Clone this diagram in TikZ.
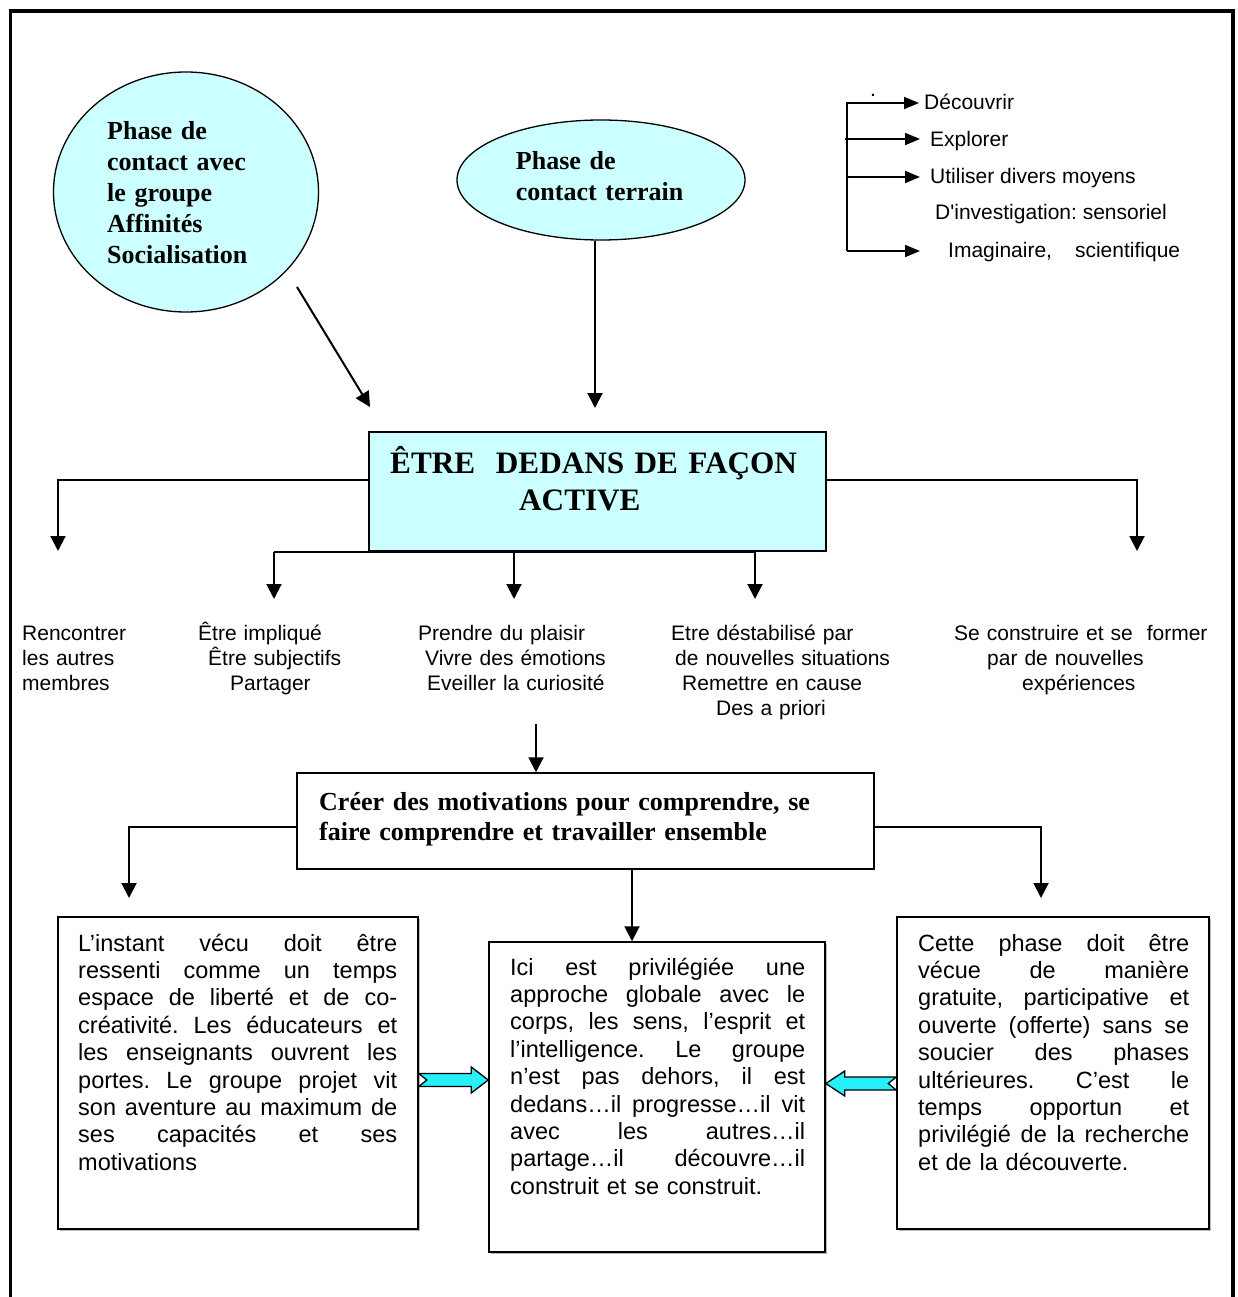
\documentclass[tikz,border=0pt]{standalone}
\usepackage{fontspec}
\setmainfont{Liberation Serif}
\newfontfamily\arial{Liberation Sans}
\usetikzlibrary{arrows.meta,shapes.geometric,calc}

\definecolor{palecyan}{RGB}{204,255,255}
\definecolor{brightcyan}{RGB}{40,240,248}

\frenchspacing
% one justified line: the word spaces stretch evenly to the width \jw
\newcommand\jl[1]{\hbox to\jw{\spaceskip=0.278em plus 1fil\relax #1}}

\begin{document}
\begin{tikzpicture}[x=1pt,y=-1pt,
  conn/.style={line width=2pt},
  arr/.style={line width=2pt,-{Triangle[length=15pt,width=15pt]}},
  listarr/.style={line width=1.8pt,-{Triangle[length=15pt,width=12pt]}},
  bubble/.style={ellipse,draw,line width=1.3pt,fill=palecyan,inner sep=0pt},
  textbox/.style={draw,line width=1.5pt,fill=white,inner sep=0pt,
    preaction={fill=gray!55,transform canvas={shift={(1.5pt,-1.5pt)}}}},
  titletext/.style={font=\bfseries\fontsize{26}{31}\selectfont,anchor=base west,
    inner sep=0pt,text width=560pt,align=left},
  lbl/.style={font=\arial\fontsize{21}{25}\selectfont,anchor=base west,
    inner sep=0pt,text width=260pt,align=left},
  item/.style={font=\arial\fontsize{21}{25}\selectfont,anchor=base west,inner sep=0pt},
  bodytext/.style={font=\arial\fontsize{23.5}{27.4}\selectfont,anchor=base west,inner sep=0pt},
  blockarr/.style={draw,line width=1.3pt,fill=brightcyan,line join=miter}
]
\useasboundingbox (0,0) rectangle (1238,1297);
\clip (0,0) rectangle (1238,1297);

% outer frame, open at the bottom
\draw[line width=3.3pt] (10.5,1310) -- (10.5,11) -- (1233,11) -- (1233,1310);

% the two contact phases
\node[bubble,minimum width=265pt,minimum height=240pt] (g1) at (186,192) {};
\node[titletext] (g1t) at (107,139.3) {Phase de\\contact avec\\le groupe\\Affinités\\Socialisation};
\node[bubble,minimum width=288pt,minimum height=120pt] (g2) at (601,180) {};
\node[titletext,font=\bfseries\fontsize{26}{31.7}\selectfont] (g2t) at (515.7,169.3) {Phase de\\contact terrain};

% central box
\node[draw,line width=1.5pt,fill=palecyan,minimum width=457pt,minimum height=119pt,inner sep=0pt] (main) at (597.5,491.5) {};
\node[font=\bfseries\fontsize{31.2}{37}\selectfont,anchor=base west,inner sep=0pt,text width=440pt,align=left]
  (mainT) at (390,473) {ÊTRE~~DEDANS DE FAÇON\\\hspace*{129pt}ACTIVE};

% arrows into the central box
\coordinate (p1s) at (297,287);
\coordinate (p1e) at (370,407);
\draw[arr] (p1s) -- (p1e);
\coordinate (p2e) at (595,408);
\draw[arr] (g2.south -| p2e) -- (p2e);

% list at the top right
\coordinate (t1) at (847,103);
\coordinate (t2) at (845,139);
\coordinate (t3) at (847,177);
\coordinate (t5) at (847,251);
\coordinate (e1) at (919,103);
\coordinate (e2) at (920,139);
\coordinate (e3) at (920,177);
\coordinate (e5) at (920,251);
\draw[listarr] (t5) -- (t1) -- (e1);
\draw[listarr] (t2) -- (e2);
\draw[listarr] (t3) -- (e3);
\draw[listarr] (t5) -- (e5);
\node[item,anchor=base] (dot) at (873,97) {.};
\node[item] (d1) at (924,110) {Découvrir};
\node[item] (d2) at (930,147) {Explorer};
\node[item] (d3) at (930,184) {Utiliser divers moyens};
\node[item] (d4) at (935,220) {D'investigation: sensoriel};
\node[item] (d5) at (948,257) {Imaginaire,\hspace{23pt}scientifique};

% branches out of the central box
\coordinate (a1) at (58,551);
\coordinate (a5) at (1137,551);
\coordinate (a2) at (274,599);
\coordinate (a3) at (514,599);
\coordinate (a4) at (755,599);
\draw[arr] ([yshift=11.5pt]main.west) -| (a1);
\draw[arr] ([yshift=11.5pt]main.east) -| (a5);
\draw[conn] (a2 |- main.south) -- (a4 |- main.south);
\draw[arr] (a2 |- main.south) -- (a2);
\draw[arr] (a3 |- main.south) -- (a3);
\draw[arr] (a4 |- main.south) -- (a4);

% the five outcomes
\node[lbl] (c1) at (22,640) {Rencontrer\\les autres\\membres};
\node[lbl] (c2) at (198,640) {Être impliqué\\\hspace*{10pt}Être subjectifs\\\hspace*{32pt}Partager};
\node[lbl] (c3) at (418,640) {Prendre du plaisir\\\hspace*{7pt}Vivre des émotions\\\hspace*{9pt}Eveiller la curiosité};
\node[lbl] (c4) at (671,640) {Etre déstabilisé par\\\hspace*{4pt}de nouvelles situations\\\hspace*{11pt}Remettre en cause\\\hspace*{45pt}Des a priori};
\node[lbl] (c5) at (954,640) {Se construire et se~~former\\\hspace*{33pt}par de nouvelles\\\hspace*{68pt}expériences};

% motivation box
\node[draw,line width=1.5pt,fill=white,minimum width=577pt,minimum height=96pt,inner sep=0pt] (cree) at (585.5,821) {};
\node[titletext,font=\bfseries\fontsize{26}{30}\selectfont] (creeT) at (319,810)
  {Créer des motivations pour comprendre, se\\faire comprendre et travailler ensemble};
\coordinate (c3s) at (536,724);
\draw[arr] (c3s) -- (cree.north -| c3s);

% the three description boxes
\node[textbox,minimum width=360pt,minimum height=312pt] (lbox) at (238,1073) {};
\node[textbox,minimum width=336pt,minimum height=310pt] (mbox) at (657,1097) {};
\node[textbox,minimum width=312pt,minimum height=312pt] (rbox) at (1053,1073) {};

\coordinate (lt) at (129,898);
\coordinate (rt) at (1041,898);
\coordinate (mt) at (632,942);
\draw[arr] ([yshift=-6pt]cree.west) -| (lt);
\draw[arr] ([yshift=-6pt]cree.east) -| (rt);
\draw[arr] (mt |- cree.south) -- (mbox.north -| mt);

\node[bodytext,text width=319pt] (lboxT) at (78,951) {%
\def\jw{319pt}%
\jl{L’instant vécu doit être}
\jl{ressenti comme un temps}
\jl{espace de liberté et de co-}
\jl{créativité. Les éducateurs et}
\jl{les enseignants ouvrent les}
\jl{portes. Le groupe projet vit}
\jl{son aventure au maximum de}
\jl{ses capacités et ses}
\hbox{motivations}};

\node[bodytext,text width=295pt] (mboxT) at (510,975) {%
\def\jw{295pt}%
\jl{Ici est privilégiée une}
\jl{approche globale avec le}
\jl{corps, les sens, l’esprit et}
\jl{l’intelligence. Le groupe}
\jl{n’est pas dehors, il est}
\jl{dedans…il progresse…il vit}
\jl{avec les autres…il}
\jl{partage…il découvre…il}
\hbox{construit et se construit.}};

\node[bodytext,text width=271pt] (rboxT) at (918,951) {%
\def\jw{271pt}%
\jl{Cette phase doit être}
\jl{vécue de manière}
\jl{gratuite, participative et}
\jl{ouverte (offerte) sans se}
\jl{soucier des phases}
\jl{ultérieures. C’est le}
\jl{temps opportun et}
\jl{privilégié de la recherche}
\hbox{et de la découverte.}};

% cyan block arrows between the boxes
\coordinate (la) at ($(lbox.east)+(0,7)$);
\coordinate (lb) at (mbox.west |- la);
\draw[blockarr] ($(la)+(0,-6.5)$) -- ($(lb)+(-17,-6.5)$) -- ($(lb)+(-17,-13)$) -- (lb)
  -- ($(lb)+(-17,13)$) -- ($(lb)+(-17,6.5)$) -- ($(la)+(0,6.5)$) -- ($(la)+(8,0)$) -- cycle;
\coordinate (ra) at ($(rbox.west)+(0,10.5)$);
\coordinate (rb) at (mbox.east |- ra);
\draw[blockarr] ($(ra)+(0,-6.5)$) -- ($(rb)+(19,-6.5)$) -- ($(rb)+(19,-12.5)$) -- (rb)
  -- ($(rb)+(19,12.5)$) -- ($(rb)+(19,6.5)$) -- ($(ra)+(0,6.5)$) -- ($(ra)+(-8,0)$) -- cycle;
\end{tikzpicture}
\end{document}
